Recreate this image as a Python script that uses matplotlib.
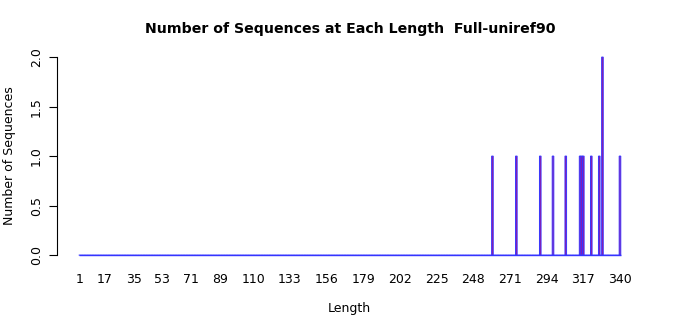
import matplotlib
matplotlib.use("Agg")
import matplotlib.pyplot as plt
import numpy as np

# observed sequence lengths and how many sequences have each
seq_lengths = [260, 275, 290, 298, 306, 315, 316, 317, 322, 327, 329, 340]
seq_counts = [1, 1, 1, 1, 1, 1, 1, 1, 1, 1, 2, 1]

min_len, max_len = 1, 340
tick_labels = [1, 17, 35, 53, 71, 89, 110, 133, 156, 179, 202, 225, 248, 271, 294, 317, 340]
y_ticks = [0.0, 0.5, 1.0, 1.5, 2.0]

all_lengths = np.arange(min_len, max_len + 1)
heights = np.zeros(len(all_lengths))
for l, c in zip(seq_lengths, seq_counts):
    heights[l - min_len] = c

fig = plt.figure(figsize=(7, 3.15), dpi=100, facecolor='white')
ax = fig.add_axes([0.0814, 0.165, 0.8364, 0.679])

ax.bar(all_lengths, heights, width=1.0, color='#b0108a', edgecolor='#3535ff',
       linewidth=0.7, align='center', snap=False)
# zero-height bars only show their border: a blue baseline
ax.hlines(0, min_len - 0.5, max_len + 0.5, color='#3535ff', linewidth=1.0)

pad_x = 0.04 * (max_len - min_len + 1)
ax.set_xlim(min_len - 0.5 - pad_x, max_len + 0.5 + pad_x)
ax.set_ylim(-0.08, 2.08)

for s in ['top', 'right', 'bottom']:
    ax.spines[s].set_visible(False)
ax.spines['left'].set_bounds(0, 2)
ax.spines['left'].set_linewidth(0.8)

ax.set_yticks(y_ticks)
ax.set_yticklabels([f"{v:.1f}" for v in y_ticks], rotation=90, va='center', fontsize=9)
ax.tick_params(axis='y', length=6, width=0.8, pad=4)

ax.set_xticks(tick_labels)
ax.set_xticklabels([str(t) for t in tick_labels], fontsize=9)
ax.tick_params(axis='x', length=0, pad=7.5)

ax.set_xlabel('Length', fontsize=9, labelpad=11.5)
ax.set_ylabel('Number of Sequences', fontsize=9, labelpad=10)
fig.suptitle('Number of Sequences at Each Length  Full-uniref90',
             fontsize=10.2, fontweight='bold', y=0.93)

plt.savefig('out.png', dpi=100)
